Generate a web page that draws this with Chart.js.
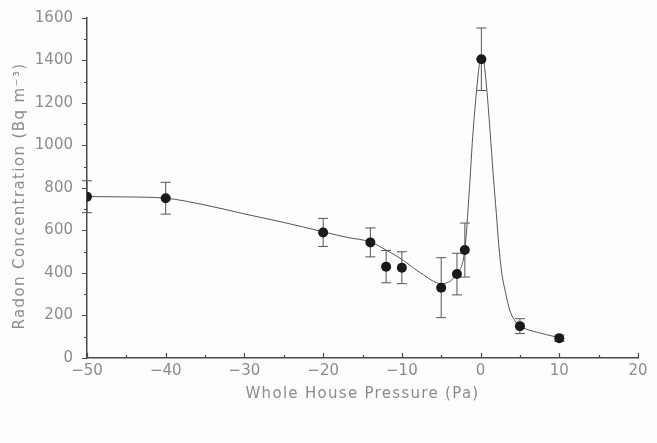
<!DOCTYPE html>
<html>
<head>
<meta charset="utf-8">
<script src="https://cdn.jsdelivr.net/npm/chart.js@4/dist/chart.umd.min.js"></script>
<style>
  html, body { margin: 0; padding: 0; background: #fdfdfd; }
  #c { display: block; }
</style>
</head>
<body>
<canvas id="c" width="657" height="443"></canvas>
<script>
// ---- data ----
const pressure = [-50, -40, -20, -14, -12, -10, -5, -3, -2, 0.1, 5, 10];
const radon    = [759, 752, 591, 544, 430, 425, 331, 395, 508, 1406, 150, 93];
const radonErr = [75, 75, 66, 68, 76, 75, 141, 98, 127, 147, 35, 15];

// fitted curve
const curveX = [-50, -45, -40, -35, -30, -25, -20, -17, -14, -12, -10, -7.6, -5, -3.1, -2, -1.4, -1.0, -0.5, -0.1, 0.3, 0.7, 1.2, 1.6, 2.0, 2.33, 2.7, 3.2, 3.7, 4.3, 5, 7.1, 10];
const curveY = [760, 758, 752, 720, 678, 638, 594, 568, 546, 508, 464, 400, 350, 395, 510, 806, 1041, 1261, 1390, 1410, 1300, 1070, 865, 681, 524, 398, 304, 226, 179, 151, 122, 96];

const xTicks = [-50, -40, -30, -20, -10, 0, 10, 20];
const xMinorTicks = [-45, -35, -25, -15, -5, 5, 15];
const yTicks = [0, 200, 400, 600, 800, 1000, 1200, 1400, 1600];
const yMinorTicks = [100, 300, 500, 700, 900, 1100, 1300, 1500];

const xTitle = 'Whole House Pressure (Pa)';
const yTitle = 'Radon Concentration (Bq m\u207B\u00B3)';

const textColor = '#8c8c8c';
const axisColor = '#4a4a4a';
const fontFamily = 'DejaVu Sans';

const fmt = v => (v < 0 ? '\u2212' + Math.abs(v) : String(v));

const extras = {
  id: 'extras',
  beforeDatasetsDraw(chart) {
    const ctx = chart.ctx;
    const xs = chart.scales.x, ys = chart.scales.y;
    ctx.save();
    // error bars
    ctx.strokeStyle = '#555';
    ctx.lineWidth = 1;
    for (let i = 0; i < pressure.length; i++) {
      const px = xs.getPixelForValue(pressure[i]);
      const top = ys.getPixelForValue(radon[i] + radonErr[i]);
      const bot = ys.getPixelForValue(radon[i] - radonErr[i]);
      ctx.beginPath();
      ctx.moveTo(px, top); ctx.lineTo(px, bot);
      ctx.moveTo(px - 5, top); ctx.lineTo(px + 5, top);
      ctx.moveTo(px - 5, bot); ctx.lineTo(px + 5, bot);
      ctx.stroke();
    }
    ctx.restore();
  },
  afterDraw(chart) {
    const ctx = chart.ctx;
    const xs = chart.scales.x, ys = chart.scales.y;
    const area = chart.chartArea;
    ctx.save();
    ctx.strokeStyle = axisColor;
    ctx.lineWidth = 1.2;
    ctx.beginPath();
    // x ticks pointing up
    xTicks.forEach(v => {
      const px = Math.round(xs.getPixelForValue(v)) + 0.5;
      ctx.moveTo(px, area.bottom); ctx.lineTo(px, area.bottom - 5);
    });
    xMinorTicks.forEach(v => {
      const px = Math.round(xs.getPixelForValue(v)) + 0.5;
      ctx.moveTo(px, area.bottom); ctx.lineTo(px, area.bottom - 3);
    });
    // y minor ticks pointing left
    yMinorTicks.forEach(v => {
      const py = Math.round(ys.getPixelForValue(v)) + 0.5;
      ctx.moveTo(area.left, py); ctx.lineTo(area.left - 3, py);
    });
    ctx.stroke();

    // axis titles (wide, letter-spaced like the plotter font)
    ctx.fillStyle = textColor;
    ctx.font = '15px "' + fontFamily + '"';
    ctx.textAlign = 'center';
    ctx.textBaseline = 'middle';
    try { ctx.letterSpacing = '1.3px'; } catch (e) {}
    ctx.fillText(xTitle, (area.left + area.right) / 2, 394);
    ctx.save();
    ctx.translate(20, 196);
    ctx.rotate(-Math.PI / 2);
    try { ctx.letterSpacing = '1.4px'; } catch (e) {}
    ctx.fillText(yTitle, 0, 0);
    ctx.restore();
    ctx.restore();
  }
};

new Chart(document.getElementById('c'), {
  type: 'scatter',
  data: {
    datasets: [
      {
        label: 'fit',
        data: curveX.map((x, i) => ({ x: x, y: curveY[i] })),
        showLine: true,
        borderColor: '#555',
        borderWidth: 1,
        pointRadius: 0,
        cubicInterpolationMode: 'monotone',
        order: 2
      },
      {
        label: 'measured',
        data: pressure.map((x, i) => ({ x: x, y: radon[i] })),
        showLine: false,
        pointRadius: 5,
        pointBackgroundColor: '#1a1a1a',
        pointBorderColor: '#1a1a1a',
        pointBorderWidth: 0,
        order: 1
      }
    ]
  },
  options: {
    responsive: false,
    animation: false,
    layout: { padding: { top: 18, right: 19, left: 0, bottom: 0 } },
    plugins: {
      legend: { display: false },
      tooltip: { enabled: false }
    },
    scales: {
      x: {
        type: 'linear',
        min: -50, max: 20,
        afterBuildTicks: s => { s.ticks = xTicks.map(v => ({ value: v })); },
        afterFit: s => { s.height = 85; },
        border: { display: true, color: axisColor, width: 1.5 },
        grid: { display: true, drawOnChartArea: false, drawTicks: false, color: axisColor },
        ticks: {
          padding: 4,
          color: textColor,
          font: { family: fontFamily, size: 15 },
          maxRotation: 0,
          callback: v => fmt(v)
        },
        title: { display: false }
      },
      y: {
        type: 'linear',
        min: 0, max: 1600,
        afterBuildTicks: s => { s.ticks = yTicks.map(v => ({ value: v })); },
        afterFit: s => { s.width = 87; },
        border: { display: true, color: axisColor, width: 1.5 },
        grid: { display: true, drawOnChartArea: false, drawTicks: true, tickLength: 5, color: axisColor },
        ticks: {
          padding: 9,
          color: textColor,
          font: { family: fontFamily, size: 15 },
          callback: v => fmt(v)
        },
        title: { display: false }
      }
    }
  },
  plugins: [extras]
});
</script>
</body>
</html>
